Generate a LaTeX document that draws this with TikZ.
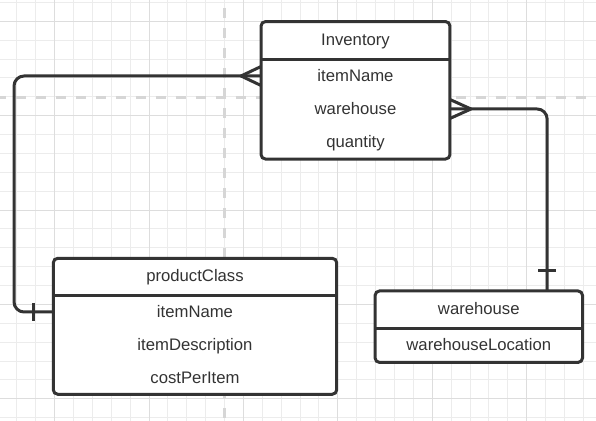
\documentclass[tikz,border=0pt]{standalone}
\usepackage{fontspec}
\setmainfont{Liberation Sans}

\definecolor{ink}{HTML}{333333}
\definecolor{gridminor}{HTML}{ECECEC}
\definecolor{gridmajor}{HTML}{DDDDDD}
\definecolor{guide}{HTML}{D6D6D6}

\begin{document}
\begin{tikzpicture}[
  x=0.02cm, y=-0.02cm,
  every node/.style={font=\fontsize{9.5}{11}\selectfont, text=ink},
  entity/.style={draw=ink, fill=white, line width=0.06cm,
    rounded corners=0.09cm, outer sep=0pt, inner sep=0pt},
  attr/.style={inner sep=0pt, text height=6.8pt, text depth=0pt},
  link/.style={draw=ink, line width=0.06cm, line join=round},
  gridline/.style={line width=0.02cm}
]

\useasboundingbox (0,0) rectangle (596,421);

% ============================================================
% Background grid
% ============================================================
\fill[white] (0,0) rectangle (596,421);
\foreach \k in {0,...,30} {
  \draw[gridline, gridminor] ({16.9+18.88*\k},0) -- ++(0,421);
}
\foreach \k in {0,...,22} {
  \draw[gridline, gridminor] (0,{2.4+18.88*\k}) -- ++(596,0);
}
\foreach \k in {0,...,5} {
  \draw[gridline, gridmajor] ({54.66+94.4*\k},0) -- ++(0,421);
}
\foreach \k in {0,...,4} {
  \draw[gridline, gridmajor] (0,{21.28+94.4*\k}) -- ++(596,0);
}

% Dashed guides
\draw[guide, line width=0.06cm, dash pattern=on 0.2cm off 0.2cm]
  (224,8) -- (224,421);
\draw[guide, line width=0.06cm, dash pattern=on 0.2cm off 0.2cm]
  (-4,97.3) -- (586,97.3);

% ============================================================
% Inventory
% ============================================================
\node[entity, minimum width=3.78cm, minimum height=2.75cm] (inv) at (355.5,90.3) {};
\draw[link] (inv.west |- 0,60) -- (inv.east |- 0,60);
\node[attr] (inv-title) at (355.5,40) {Inventory};
\node[attr] (inv-item)  at (355.5,76) {itemName};
\node[attr] (inv-wh)    at (355.5,109) {warehouse};
\node[attr] (inv-qty)   at (355.5,142) {quantity};

% ============================================================
% productClass
% ============================================================
\node[entity, minimum width=5.67cm, minimum height=2.72cm] (pc) at (195,326.3) {};
\draw[link] (pc.west |- 0,296) -- (pc.east |- 0,296);
\node[attr] (pc-title) at (195,276) {productClass};
\node[attr] (pc-item)  at (195,312) {itemName};
\node[attr] (pc-desc)  at (195,345) {itemDescription};
\node[attr] (pc-cost)  at (195,378) {costPerItem};

% ============================================================
% warehouse
% ============================================================
\node[entity, minimum width=4.15cm, minimum height=1.43cm] (wh) at (478.8,326.7) {};
\draw[link] (wh.west |- 0,329) -- (wh.east |- 0,329);
\node[attr] (wh-title) at (478.8,309) {warehouse};
\node[attr] (wh-loc)   at (478.8,345) {warehouseLocation};

% ============================================================
% Inventory (many) -- productClass (one)
% ============================================================
\draw[link, rounded corners=0.2cm]
  (inv.west |- inv-item) -- ++(-247,0) |- (pc.west |- pc-item);
\draw[link] (inv.west |- inv-item) ++(0,-9.5) -- ++(-20,9.5) -- ++(20,9.5);
\draw[link] (pc.west |- pc-item) ++(-20,-9) -- ++(0,18);

% ============================================================
% Inventory (many) -- warehouse (one)
% ============================================================
\draw[link, rounded corners=0.2cm]
  (inv.east |- inv-wh) -| ([xshift=-0.708cm]wh.north east);
\draw[link] (inv.east |- inv-wh) ++(0,-9.5) -- ++(21,9.5) -- ++(-21,9.5);
\draw[link] ([xshift=-0.708cm]wh.north east) ++(-9,-20) -- ++(18,0);

\end{tikzpicture}
\end{document}
